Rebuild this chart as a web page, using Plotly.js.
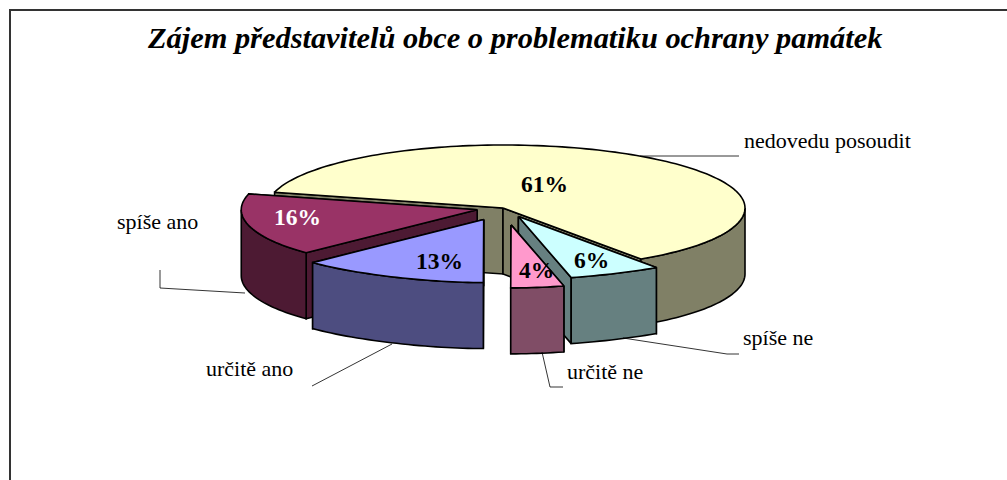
<!DOCTYPE html>
<html>
<head>
<meta charset="utf-8">
<script src="https://cdn.plot.ly/plotly-3.0.1.min.js"></script>
<style>html,body{margin:0;padding:0;background:#fff}</style>
</head>
<body>
<div id="chart" style="width:1007px;height:480px"></div>
<script>
// Data
const categories = ['nedovedu posoudit', 'spíše ne', 'určitě ne', 'určitě ano', 'spíše ano'];
const values = [61, 6, 4, 13, 16];
const chartTitle = 'Zájem představitelů obce o problematiku ochrany památek';

// Styles and geometry of the pseudo-3D pie
const topColors = ['#FFFFCC', '#CCFFFF', '#FF99CC', '#9999FF', '#993366'];
const wallColors = ['#808066', '#668080', '#804D66', '#4D4D80', '#4D1A33'];
const pctColors = ['#000', '#000', '#000', '#000', '#fff'];
const explode = [0, 0.15, 0.27, 0.2, 0.11];
const drawOrder = [0, 4, 1, 2, 3];
const startAngle = 284.5, cx = 503, cy = 208, rx = 242, ry = 63, depth = 66;

const pctPos = [[544,184],[591,260],[536,270],[439,261],[297,217]];
const labelPos = [[742,140],[741,337],[565,371],[204,368],[115,221]];
const leaders = [
  [[640,156],[739,156]],
  [[623,338],[727,354],[739,354]],
  [[542,352],[550,387],[563,387]],
  [[392,344],[312,386]],
  [[160,270],[160,288],[245,293]]
];

const total = values.reduce((a, b) => a + b, 0);
const rad = d => d * Math.PI / 180;
const traces = [];
function poly(xs, ys, color) {
  traces.push({type:'scatter', mode:'lines', x:xs, y:ys, fill:'toself', fillcolor:color,
    line:{color:'#000', width:1.6, shape:'linear', simplify:false}, hoverinfo:'skip', showlegend:false});
}
// horizontal extent of the rim at a given angle: the original's projection narrows at the front and left
function rimX(aDeg) {
  const a = rad(aDeg), s = Math.sin(a), c = Math.cos(a);
  const front = 1 - 0.15 * Math.pow(Math.max(0, -c), 8);
  return rx * s * front * (s < 0 ? 0.975 : 1);
}
function rimY(aDeg) { return -ry * Math.cos(rad(aDeg)); }
function arc(a1, a2, ox, oy, dz) {
  const n = Math.max(2, Math.ceil(Math.abs(a2 - a1) / 1.5));
  const xs = [], ys = [];
  for (let i = 0; i <= n; i++) {
    const a = a1 + (a2 - a1) * i / n;
    xs.push(ox + rimX(a));
    ys.push(oy + rimY(a) + dz);
  }
  return [xs, ys];
}

let acc = startAngle;
const slices = values.map((v, i) => {
  const a1 = acc, a2 = acc + v / total * 360;
  acc = a2;
  const mid = rad((a1 + a2) / 2);
  return {a1, a2, ox: cx + explode[i] * rx * Math.sin(mid), oy: cy - explode[i] * ry * Math.cos(mid)};
});

drawOrder.forEach(i => {
  const s = slices[i];
  // radial faces, the nearer one last
  const faces = [s.a1, s.a2].map(a => ({
    x: s.ox + rimX(a), y: s.oy + rimY(a)
  })).sort((p, q) => p.y - q.y);
  faces.forEach(p => poly([s.ox, p.x, p.x, s.ox, s.ox], [s.oy, p.y, p.y + depth, s.oy + depth, s.oy], wallColors[i]));
  // outer wall: only the part of the rim that faces the viewer
  [[90, 270], [450, 630]].forEach(([lo, hi]) => {
    const w1 = Math.max(s.a1, lo), w2 = Math.min(s.a2, hi);
    if (w2 > w1) {
      const up = arc(w1, w2, s.ox, s.oy, 0), dn = arc(w2, w1, s.ox, s.oy, depth);
      poly(up[0].concat(dn[0], [up[0][0]]), up[1].concat(dn[1], [up[1][0]]), wallColors[i]);
    }
  });
  // top
  const t = arc(s.a1, s.a2, s.ox, s.oy, 0);
  poly([s.ox].concat(t[0], [s.ox]), [s.oy].concat(t[1], [s.oy]), topColors[i]);
});

const serif = '"Liberation Serif","Times New Roman",serif';
const annotations = [];
categories.forEach((c, i) => annotations.push({
  x: labelPos[i][0], y: labelPos[i][1], xref:'x', yref:'y', text:c, showarrow:false,
  xanchor:'left', yanchor:'middle', font:{family:serif, size:22, color:'#000'}
}));
values.forEach((v, i) => annotations.push({
  x: pctPos[i][0], y: pctPos[i][1], xref:'x', yref:'y', text:'<b>' + v + '%</b>', showarrow:false,
  xanchor:'center', yanchor:'middle', font:{family:serif, size:23.5, color:pctColors[i]}
}));
annotations.push({
  x: 514, y: 38, xref:'x', yref:'y', text:'<b><i>' + chartTitle + '</i></b>', showarrow:false,
  xanchor:'center', yanchor:'middle', font:{family:serif, size:30.4, color:'#000'}
});

const shapes = leaders.map(pts => ({
  type:'path', xref:'x', yref:'y',
  path:'M' + pts.map(p => p.join(',')).join(' L'),
  line:{color:'#000', width:0.8}
}));
shapes.push({type:'path', xref:'x', yref:'y', path:'M10,480 L10,10 L1007,10', line:{color:'#333', width:2}});

Plotly.newPlot('chart', traces, {
  width:1007, height:480, margin:{l:0,r:0,t:0,b:0}, showlegend:false,
  paper_bgcolor:'#fff', plot_bgcolor:'#fff',
  xaxis:{range:[0,1007], visible:false, fixedrange:true},
  yaxis:{range:[480,0], visible:false, fixedrange:true},
  annotations, shapes, hovermode:false
}, {displayModeBar:false, staticPlot:true});
</script>
</body>
</html>
